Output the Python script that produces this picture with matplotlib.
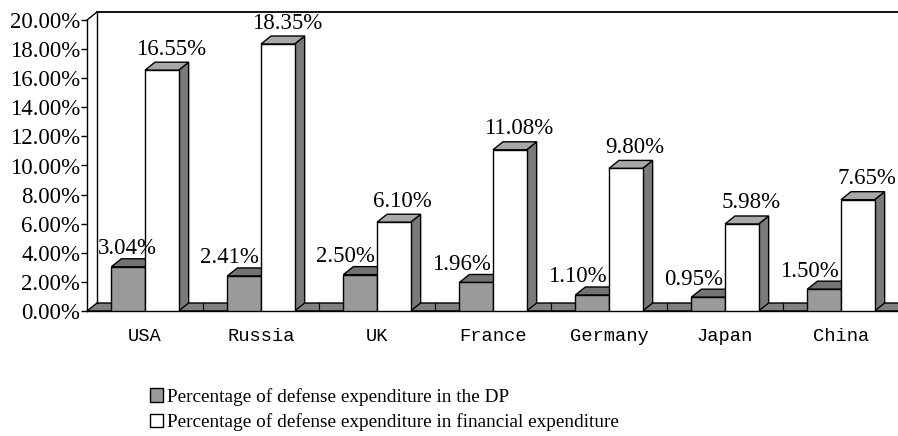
import matplotlib
matplotlib.use('Agg')
import matplotlib.pyplot as plt
from matplotlib.patches import Polygon, Patch

countries = ['USA', 'Russia', 'UK', 'France', 'Germany', 'Japan', 'China']
gdp_share = [3.04, 2.41, 2.50, 1.96, 1.10, 0.95, 1.50]
fin_share = [16.55, 18.35, 6.10, 11.08, 9.80, 5.98, 7.65]
yticks = [0, 2, 4, 6, 8, 10, 12, 14, 16, 18, 20]
legend_labels = ['Percentage of defense expenditure in the DP',
                 'Percentage of defense expenditure in financial expenditure']

plt.rcParams['font.family'] = ['Liberation Serif', 'DejaVu Serif']

W, H = 898, 436
fig = plt.figure(figsize=(W / 100, H / 100), dpi=100)
left_px, right_px = 87, 899
zero_px, top_px = 311, 20
ax = fig.add_axes([left_px / W, (H - zero_px) / H,
                   (right_px - left_px) / W, (zero_px - top_px) / H])
ax.set_xlim(-0.5, len(countries) - 0.5)
ax.set_ylim(0, 20)

# 3d depth in pixels -> data units
dx = 10 * len(countries) / (right_px - left_px)
dy = 8 * 20 / (zero_px - top_px)

front_gray = '#9a9a9a'
top_gray = '#737373'
side_dark = '#7a7a7a'
top_white = '#a8a8a8'
floor_col = '#808080'
lw = 1.0

x0, x1 = -0.5, len(countries) - 0.5

# back wall + floor
ax.plot([x0 + dx, x1 + dx], [20 + dy, 20 + dy], color='black', lw=1.3, clip_on=False)
ax.plot([x0 + dx, x0 + dx], [dy, 20 + dy], color='black', lw=lw, clip_on=False)
ax.plot([x0, x0 + dx], [20, 20 + dy], color='black', lw=lw, clip_on=False)
ax.add_patch(Polygon([(x0, 0), (x1, 0), (x1 + dx, dy), (x0 + dx, dy)],
                     closed=True, facecolor=floor_col, edgecolor='black', lw=lw, clip_on=False))
for k in range(len(countries) - 1):
    ax.plot([k + 0.5, k + 0.5], [0, dy], color='black', lw=0.8)


def bar3d(xc, w, h, front, top, side):
    xl, xr = xc - w / 2, xc + w / 2
    ax.add_patch(Polygon([(xr, 0), (xr + dx, dy), (xr + dx, h + dy), (xr, h)],
                         closed=True, facecolor=side, edgecolor='black', lw=lw, clip_on=False))
    ax.add_patch(Polygon([(xl, h), (xr, h), (xr + dx, h + dy), (xl + dx, h + dy)],
                         closed=True, facecolor=top, edgecolor='black', lw=lw, clip_on=False))
    ax.bar(xc, h, width=w, color=front, edgecolor='black', lw=lw, zorder=3)


w = 0.29
for i in range(len(countries)):
    g, f = gdp_share[i], fin_share[i]
    bar3d(i - w / 2, w, g, front_gray, top_gray, side_dark)
    bar3d(i + w / 2, w, f, 'white', top_white, side_dark)
    shift = -6 if i == 0 else -20
    ax.annotate('%.2f%%' % g, (i - w / 2 + dx / 2, g + dy), xytext=(shift, 10),
                textcoords='offset pixels', ha='center', va='center', fontsize=16.5, zorder=5)
    ax.annotate('%.2f%%' % f, (i + w / 2 + dx / 2, f + dy), xytext=(4, 13),
                textcoords='offset pixels', ha='center', va='center', fontsize=16.5, zorder=5)

for s in ['top', 'right']:
    ax.spines[s].set_visible(False)
ax.spines['left'].set_linewidth(lw)
ax.spines['bottom'].set_linewidth(lw)
ax.set_yticks(yticks)
ax.set_yticklabels(['%.2f%%' % v for v in yticks], fontsize=16.5)
ax.tick_params(axis='y', length=4, width=1, pad=1)
ax.set_xticks(range(len(countries)))
ax.set_xticklabels(countries, fontsize=13.5, family=['Liberation Mono', 'DejaVu Sans Mono'])
ax.tick_params(axis='x', length=0, pad=12)
ax.patch.set_visible(False)

handles = [Patch(facecolor=front_gray, edgecolor='black'),
           Patch(facecolor='white', edgecolor='black')]
fig.legend(handles, legend_labels, loc='upper left', bbox_to_anchor=(142 / W, 1 - 380 / H),
           frameon=False, fontsize=13.9, handlelength=0.7, handleheight=0.7,
           handletextpad=0.2, labelspacing=0.4, borderaxespad=0)

fig.savefig('out.png', dpi=100)
